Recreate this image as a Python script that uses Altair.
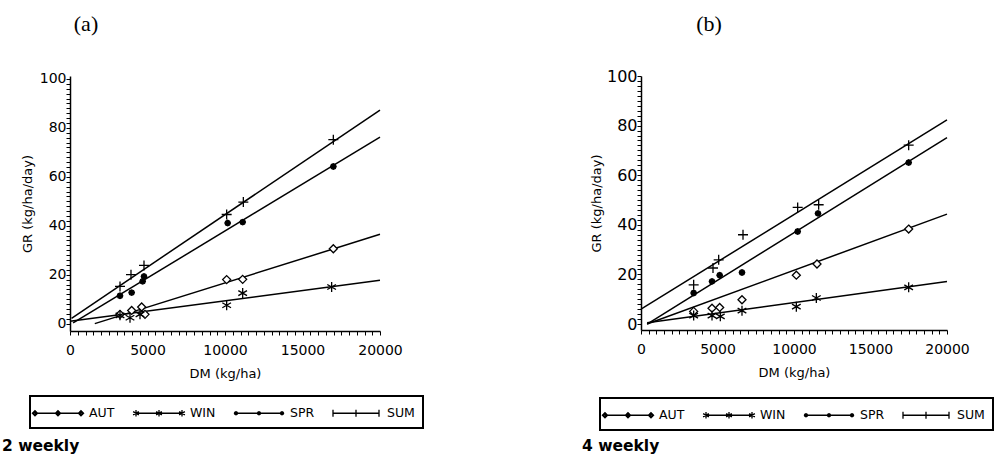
import math
import altair as alt
import pandas as pd

SERIES = ["AUT", "WIN", "SPR", "SUM"]

# ---------- Panel (a): 2 weekly ----------
a_aut_x = [3226, 3978, 4624, 4838, 10107, 11140, 16989]
a_aut_y = [3.8, 5.4, 6.8, 3.8, 18.0, 18.1, 30.6]
a_win_x = [3226, 3871, 4516, 10107, 11140, 16880]
a_win_y = [3.4, 2.4, 3.8, 7.5, 12.5, 15.0]
a_spr_x = [3226, 3978, 4688, 4774, 10172, 11140, 16990]
a_spr_y = [11.4, 12.7, 17.3, 19.3, 41.1, 41.5, 64.2]
a_sum_x = [3226, 3935, 4774, 10107, 11183, 16989]
a_sum_y = [15.2, 20.0, 23.8, 44.6, 49.7, 75.2]
# fitted lines: start DM, start GR, end DM, end GR
a_line_aut = [1600, 0.0, 20000, 36.5]
a_line_win = [0, 1.0, 20000, 17.7]
a_line_spr = [200, 0.3, 20000, 76.2]
a_line_sum = [100, 2.2, 20000, 87.3]

# ---------- Panel (b): 4 weekly ----------
b_aut_x = [3442, 4641, 5142, 6601, 10153, 11503, 17495]
b_aut_y = [5.1, 6.4, 6.7, 9.8, 19.7, 24.2, 38.3]
b_win_x = [3442, 4641, 5185, 6601, 10153, 11460, 17495]
b_win_y = [3.4, 3.4, 3.1, 5.4, 7.0, 10.5, 14.8]
b_spr_x = [3442, 4641, 5142, 6601, 10240, 11569, 17495]
b_spr_y = [12.5, 17.2, 19.7, 20.8, 37.3, 44.6, 65.1]
b_sum_x = [3442, 4706, 5077, 6667, 10240, 11612, 17495]
b_sum_y = [15.8, 22.6, 25.9, 36.0, 47.0, 48.1, 72.1]
b_line_aut = [400, 0.0, 20000, 44.3]
b_line_win = [400, 0.5, 20000, 17.2]
b_line_spr = [400, 0.0, 20000, 75.2]
b_line_sum = [0, 6.0, 20000, 82.3]

X_TICKS = list(range(0, 20001, 500))
Y_TICKS = list(range(0, 101, 2))


def pts_frame(groups):
    rows = []
    for s, (xs, ys) in zip(SERIES, groups):
        for x, y in zip(xs, ys):
            rows.append({"DM": x, "GR": y, "series": s})
    return pd.DataFrame(rows)


def line_frame(lines):
    rows = []
    for s, (x0, y0, x1, y1) in zip(SERIES, lines):
        rows.append({"DM": x0, "GR": y0, "series": s})
        rows.append({"DM": x1, "GR": y1, "series": s})
    return pd.DataFrame(rows)


def octagon(cx, r):
    pts = [(cx + r * math.cos(k * math.pi / 4), r * math.sin(k * math.pi / 4)) for k in range(8)]
    return "M" + "L".join(f"{x:.3f},{y:.3f}" for x, y in pts) + "Z"


def diamond(cx, r):
    return f"M{cx-r:.3f},0L{cx:.3f},{-r:.3f}L{cx+r:.3f},0L{cx:.3f},{r:.3f}Z"


# marker shapes for the plotted points
PT_SHAPES = {
    "AUT": "M0,-0.8L0.8,0L0,0.8L-0.8,0Z",
    "WIN": "M0,-1L0,1M-0.87,-0.5L0.87,0.5M-0.87,0.5L0.87,-0.5",
    "SPR": octagon(0, 0.55),
    "SUM": "M-1,0L1,0M0,-1L0,1",
}
PT_FILLS = {"AUT": "white", "WIN": "black", "SPR": "black", "SUM": "black"}

# legend samples: a line with three markers (1 unit = 8 px)
E = 2.875
CS = [-E, 0, E]


def leg_aut():
    d = f"M{-E},0L{E},0"
    for c in CS:
        d += diamond(c, 0.32) + diamond(c, 0.16)
    return d


def leg_win():
    d = f"M{-E},0L{E},0"
    for c in CS:
        d += (f"M{c},-0.42L{c},0.42M{c-0.36:.3f},-0.21L{c+0.36:.3f},0.21"
              f"M{c-0.36:.3f},0.21L{c+0.36:.3f},-0.21")
    return d


def leg_spr():
    d = f"M{-E},0L{E},0"
    for c in CS:
        d += octagon(c, 0.2) + octagon(c, 0.08)
    return d


def leg_sum():
    d = f"M{-E},0L{E},0"
    for c in CS:
        d += f"M{c},-0.45L{c},0.45"
    return d


LEG_PATHS = [leg_aut(), leg_win(), leg_spr(), leg_sum()]


def panel(pts, lines, ydom, width, height, tag, tag_x, foot, foot_x, leg_x, leg_y,
          ylab_size, ytitle_pad):
    x_enc = alt.X(
        "DM:Q",
        scale=alt.Scale(domain=[0, 20000], nice=False, zero=False),
        axis=alt.Axis(
            title="DM (kg/ha)", values=X_TICKS,
            labelExpr="datum.value % 5000 === 0 ? format(datum.value, 'd') : ''",
            ticks=True, tickSize=4, tickColor="black", tickWidth=1, labelPadding=8,
            labelFontSize=14, labelFlush=False, labelOverlap=False, titleFontSize=13,
            titleFontWeight="normal", titlePadding=10, grid=False,
        ),
    )
    y_enc = alt.Y(
        "GR:Q",
        scale=alt.Scale(domain=ydom, nice=False, zero=False),
        axis=alt.Axis(
            title="GR (kg/ha/day)", values=Y_TICKS,
            labelExpr="datum.value % 20 === 0 ? datum.label : ''",
            ticks=True, tickSize=4, tickColor="black", tickWidth=1, labelPadding=0,
            labelFontSize=ylab_size, labelOverlap=False, titleFontSize=13,
            titleFontWeight="normal", titlePadding=ytitle_pad, grid=False,
        ),
    )
    line_layer = alt.Chart(lines).mark_line(color="black", strokeWidth=1.5).encode(
        x=x_enc, y=y_enc, detail="series:N"
    )
    point_layers = []
    for s in SERIES:
        point_layers.append(
            alt.Chart(pts).transform_filter(alt.datum.series == s).mark_point(
                shape=PT_SHAPES[s], fill=PT_FILLS[s], filled=True, stroke="black",
                strokeWidth=1.3, opacity=1, size=100,
            ).encode(x=x_enc, y=y_enc)
        )
    # invisible layer that carries the legend (line-with-markers samples)
    legend_layer = alt.Chart(pts).mark_point(
        filled=False, color="black", strokeWidth=1.3, opacity=1, size=0
    ).encode(
        x=x_enc,
        y=y_enc,
        shape=alt.Shape(
            "series:N",
            scale=alt.Scale(domain=SERIES, range=LEG_PATHS),
            legend=alt.Legend(
                title=None, orient="none", legendX=leg_x, legendY=leg_y,
                direction="horizontal", columns=4,
                symbolSize=256, symbolOffset=11, labelOffset=22,
                columnPadding=15, padding=8,
                labelFont="DejaVu Sans", labelFontSize=12.5, labelColor="black",
                strokeColor="black", symbolStrokeWidth=1.3,
                symbolStrokeColor="black", symbolOpacity=1,
            ),
        ),
    )
    tag_layer = alt.Chart(pd.DataFrame({"t": [tag]})).mark_text(
        font="Liberation Serif", fontSize=22, align="center", baseline="alphabetic", color="black"
    ).encode(x=alt.value(tag_x), y=alt.value(-45), text="t:N")
    foot_layer = alt.Chart(pd.DataFrame({"t": [foot]})).mark_text(
        font="DejaVu Sans", fontSize=15.5, fontWeight="bold", align="left",
        baseline="alphabetic", color="black"
    ).encode(x=alt.value(foot_x), y=alt.value(375), text="t:N")
    return alt.layer(line_layer, *point_layers, legend_layer, tag_layer, foot_layer).properties(
        width=width, height=height
    )


pa = panel(
    pts_frame([(a_aut_x, a_aut_y), (a_win_x, a_win_y), (a_spr_x, a_spr_y), (a_sum_x, a_sum_y)]),
    line_frame([a_line_aut, a_line_win, a_line_spr, a_line_sum]),
    [-3, 101.2], 310, 255, "(a)", 16, "2 weekly", -68, -40, 320, 14, 5,
)
pb = panel(
    pts_frame([(b_aut_x, b_aut_y), (b_win_x, b_win_y), (b_spr_x, b_spr_y), (b_sum_x, b_sum_y)]),
    line_frame([b_line_aut, b_line_win, b_line_spr, b_line_sum]),
    [-2.4, 100], 306, 254, "(b)", 68, "4 weekly", -59, -41, 322, 16, 3,
)

chart = alt.hconcat(pa, pb, spacing=261, bounds="flush").resolve_scale(
    shape="independent"
).resolve_legend(shape="independent").properties(
    padding={"left": 2, "top": 13, "right": 0, "bottom": 0}
).configure_view(stroke=None).configure_axis(
    domainColor="black", domainWidth=1.5, tickColor="black", tickWidth=1,
    labelColor="black", titleColor="black", labelFont="DejaVu Sans", titleFont="DejaVu Sans",
).configure_legend(strokeWidth=2)

chart.save("out.html", embed_options={"renderer": "svg", "actions": False})
